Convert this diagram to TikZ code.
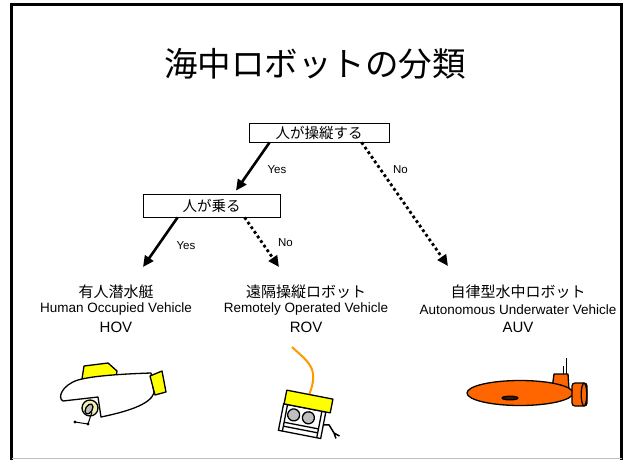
\documentclass[tikz,border=0pt]{standalone}
\usepackage{fontspec}
\setmainfont{Liberation Sans}
\newfontfamily\jp{Noto Sans CJK JP}
\usetikzlibrary{arrows.meta,calc}

\definecolor{subyellow}{HTML}{FFFF00}
\definecolor{cockpit}{HTML}{F4F0B4}
\definecolor{auvorange}{HTML}{FF6600}
\definecolor{cableorange}{HTML}{FF9900}

\tikzset{
  qbox/.style={draw, line width=0.8pt, inner sep=0pt, font=\jp\fontsize{14.5}{17}\selectfont},
  yesarrow/.style={line width=2.6pt, -{Triangle[length=11pt,width=10pt]}},
  noarrow/.style={line width=2.8pt, dash pattern=on 2.8pt off 2.8pt, -{Triangle[length=11pt,width=10pt]}},
  branch/.style={font=\fontsize{11.5}{13}\selectfont, inner sep=0pt},
  jname/.style={font=\jp\fontsize{15}{17}\selectfont, inner sep=0pt},
  ename/.style={font=\fontsize{13.5}{15}\selectfont, inner sep=0pt},
  acro/.style={font=\fontsize{15}{17}\selectfont, inner sep=0pt},
  outline/.style={draw=black, line width=1.3pt, line join=round},
}

\begin{document}
\begin{tikzpicture}[x=1pt,y=-1pt]
\useasboundingbox (0,0) rectangle (628,460);

% slide frame
\draw[line width=3pt] (11.5,460) -- (11.5,5) -- (621.5,5) -- (621.5,460);
\draw[black!25, line width=0.8pt] (11.5,458.5) -- (621.5,458.5);

% title
\node[font=\jp\fontsize{33.5}{38}\selectfont, inner sep=0pt] (title) at (315,64) {海中ロボットの分類};

% decision boxes
\node[qbox, minimum width=140pt, minimum height=19pt] (op) at (319,132.5) {人が操縦する};
\node[qbox, minimum width=137pt, minimum height=23pt] (ride) at (211.5,205.5) {人が乗る};

% arrow end points
\coordinate (ridetop) at ([xshift=24.5pt,yshift=3pt]ride.north);
\coordinate (hovtip) at (143,267);
\coordinate (rovtip) at (279,267);
\coordinate (auvtip) at (448,266);

\draw[yesarrow] ([xshift=21pt]op.south west) -- (ridetop);
\draw[noarrow] ([xshift=113pt]op.south west) -- (auvtip);
\draw[yesarrow] ([xshift=35pt]ride.south west) -- (hovtip);
\draw[noarrow] ([xshift=102pt]ride.south west) -- (rovtip);

\node[branch] (yes1) at (277,169.5) {Yes};
\node[branch] (no1) at (400.5,169.5) {No};
\node[branch] (yes2) at (186,246) {Yes};
\node[branch] (no2) at (285.5,243) {No};

% category labels
\node[jname] (hovj) at (116,292) {有人潜水艇};
\node[ename] (hove) at (116,309.5) {Human Occupied Vehicle};
\node[acro] (hova) at (116,327) {HOV};

\node[jname] (rovj) at (306,292) {遠隔操縦ロボット};
\node[ename] (rove) at (306,309.5) {Remotely Operated Vehicle};
\node[acro] (rova) at (306,327) {ROV};

\node[jname] (auvj) at (518,292) {自律型水中ロボット};
\node[ename] (auve) at (518,309.5) {Autonomous Underwater Vehicle};
\node[acro] (auva) at (518,327) {AUV};

% ---- manned submersible ----
\draw[outline, fill=subyellow] (82,379) -- (84,366) -- (108,363) -- (117,371) -- (116,377) -- cycle;
\draw[outline, fill=cockpit] (90,408) circle (8);
\draw[outline, fill=black!25, rotate around={-30:(89,409)}] (89,409) ellipse (3.3 and 5.5);
\draw[outline, fill=white] (98,397) -- (101,417)
  .. controls (125,412) and (150,405) .. (154,393) -- (151,373)
  .. controls (120,374) and (92,376) .. (78,380)
  .. controls (62,385) and (57,398) .. (63,401) -- cycle;
\draw[outline, fill=subyellow] (150,376) -- (162,371) -- (166,392) -- (155,395) -- cycle;
\draw[line width=1pt] (92,412) -- (88,424) -- (75,422);
\fill (88,424) circle (1.6) (75,422) circle (1.6);

% ---- remotely operated vehicle ----
\draw[cableorange, line width=2pt] (292,347) .. controls (308,362) and (320,368) .. (309,395);
\begin{scope}[shift={(308.5,401.5)}, rotate=-11]
  \draw[line width=1.3pt, fill=white] (-24,7) rectangle (19,34);
  \draw[line width=1.3pt] (-20,7) -- (-20,34) (15,7) -- (15,34)
    (-20,25) -- (15,25) (-20,29) -- (15,29);
  \draw[outline, fill=black!25] (-12,16) circle (6) (3,16) circle (6);
  \draw[line width=1.5pt, line join=round] (19,20) -- (24.6,19) -- (31,26) -- (37,28) (31,26) -- (34,31);
  \draw[outline, line width=1.3pt, fill=subyellow] (-23.5,-7) rectangle (23.5,7);
\end{scope}

% ---- autonomous vehicle ----
\draw[line width=1pt] (563,374) -- (563,366) (566,374) -- (566,358);
\draw[outline, fill=auvorange] (552,389) -- (554,374) -- (568,374) -- (569,390) -- cycle;
\draw[outline, fill=auvorange] (520,393) ellipse (53 and 12.5);
\draw[outline, fill=auvorange, rounded corners=3pt] (572,383) rectangle (587,406);
\draw[outline, fill=auvorange] (584,394.5) ellipse (2.8 and 11.3);
\draw[outline, fill=black!75!auvorange] (510,398) ellipse (8 and 1.8);
\end{tikzpicture}
\end{document}
